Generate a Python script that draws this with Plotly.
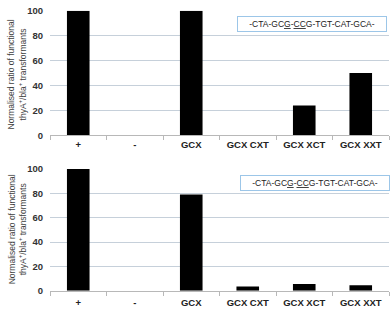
import plotly.graph_objects as go
from plotly.subplots import make_subplots

categories = ["+", "-", "GCX", "GCX CXT", "GCX XCT", "GCX XXT"]
top_values = [100, 0, 100, 0, 24, 50]
bottom_values = [100, 0, 79, 3.5, 5.5, 4.5]
y_ticks = [0, 20, 40, 60, 80, 100]
seq_label = "-CTA-GC<u>G</u>-<u>CC</u>G-TGT-CAT-GCA-"
y_title = "Normalised ratio of functional<br>thyA<sup>+</sup>/bla<sup>+</sup> transformants"

W, H = 392, 313
fig = make_subplots(rows=2, cols=1)

for row, vals in ((1, top_values), (2, bottom_values)):
    fig.add_trace(go.Bar(x=categories, y=vals, marker=dict(color="black", line=dict(width=0)),
                         showlegend=False), row=row, col=1)

xdom = [50 / W, 389 / W]
common_x = dict(domain=xdom, showgrid=False, showline=True, linecolor="#b8b8b8", linewidth=1,
                ticks="outside", tickson="boundaries", ticklen=4, tickcolor="#b8b8b8",
                tickfont=dict(family="Liberation Sans", size=9.5, color="#222222", weight="bold"),
                fixedrange=True)
common_y = dict(range=[0, 100], tickvals=y_ticks, showgrid=True, gridcolor="#c6d0da", gridwidth=1,
                zeroline=False, showline=False, ticks="", ticklabelstandoff=6, fixedrange=True,
                tickfont=dict(family="Liberation Sans", size=9.5, color="#333333", weight="bold"))

fig.update_layout(
    width=W, height=H, margin=dict(l=0, r=0, t=0, b=0),
    paper_bgcolor="white", plot_bgcolor="white", bargap=0.6,
    xaxis=dict(**common_x), xaxis2=dict(**common_x, ticklabelstandoff=3),
    yaxis=dict(**common_y, domain=[1 - 134 / H, 1 - 5 / H]),
    yaxis2=dict(**common_y, domain=[1 - 295 / H, 1 - 169 / H]),
)

for cy in (71, 231.5):
    fig.add_annotation(x=17 / W, y=1 - cy / H, xref="paper", yref="paper", text=y_title,
                       textangle=-90, showarrow=False, xanchor="center", yanchor="middle",
                       font=dict(family="Liberation Sans", size=8.5, color="#404040"))

for cx, cy in ((312, 18.5), (315, 183)):
    fig.add_annotation(x=cx / W, y=1 - cy / H, xref="paper", yref="paper", text=seq_label,
                       showarrow=False, xanchor="center", yanchor="middle",
                       bgcolor="white", bordercolor="#9cc6e8", borderwidth=1, borderpad=2,
                       width=144, font=dict(family="Liberation Sans", size=8.5, color="#222222"))

fig.write_html("out.html", config={"displayModeBar": False},
               post_script="document.body.style.margin='0';document.body.style.padding='0';")
